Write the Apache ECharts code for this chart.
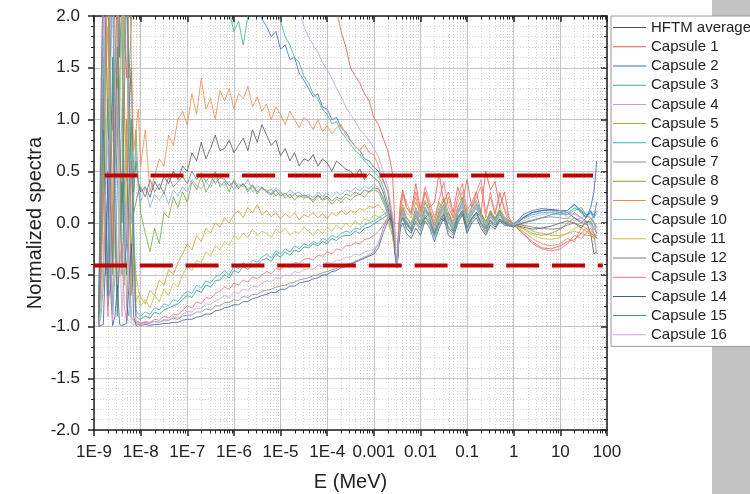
<!DOCTYPE html>
<html>
<head>
<meta charset="utf-8">
<script src="https://cdn.jsdelivr.net/npm/echarts@6/dist/echarts.min.js"></script>
<style>
  html, body { margin: 0; padding: 0; background: #fff; }
  #chart { width: 750px; height: 494px; }
</style>
</head>
<body>
<div id="chart"></div>
<script>
// energy grid, log10(E / MeV), split in segments
const logE = [
  [-8.9, -8.85, -8.8, -8.75, -8.7, -8.65, -8.6, -8.55, -8.5,
   -8.45, -8.4, -8.35, -8.3, -8.25, -8.2, -8.15, -8.1, -8.05],
  [-8.0, -7.9, -7.8, -7.7, -7.6, -7.5, -7.4, -7.3, -7.2,
   -7.1, -7.0, -6.9, -6.8, -6.7, -6.6, -6.5, -6.4, -6.3,
   -6.2, -6.1, -6.0, -5.9, -5.8, -5.7, -5.6, -5.5, -5.4,
   -5.3, -5.2, -5.1, -5.0, -4.9, -4.8, -4.7, -4.6, -4.5,
   -4.4, -4.3, -4.2, -4.1, -4.0, -3.9, -3.8, -3.7, -3.6,
   -3.5, -3.4, -3.3, -3.2, -3.1, -3.0, -2.9, -2.8, -2.7],
  [-2.65, -2.6, -2.56, -2.53, -2.5, -2.47, -2.43, -2.38, -2.3,
   -2.2, -2.1, -2.0, -1.9, -1.8, -1.7, -1.6, -1.5, -1.4,
   -1.3, -1.2, -1.1, -1.0, -0.9, -0.8, -0.7, -0.6, -0.5,
   -0.4, -0.3, -0.2, -0.1, 0.0],
  [0.2, 0.4, 0.6, 0.8, 1.0, 1.15, 1.3, 1.45, 1.55, 1.65, 1.72, 1.78]
];

const hftmAverage = [
  [-1.0, 0.4, 1.2, -0.5, -0.3, 1.6, 2.5, 0.2, 0.8, 2.3, 1.9, -0.4, -0.2, 1.1, 1.5, 0.3, 0.6, 0.4],
  [0.3, 0.35, 0.25, 0.4, 0.32, 0.45, 0.38, 0.5, 0.42,
   0.55, 0.5, 0.68, 0.6, 0.78, 0.62, 0.72, 0.85, 0.7,
   0.72, 0.8, 0.68, 0.75, 0.82, 0.7, 0.9, 0.78, 0.95,
   0.85, 0.75, 0.8, 0.65, 0.72, 0.6, 0.68, 0.55, 0.62,
   0.6, 0.66, 0.55, 0.62, 0.58, 0.5, 0.6, 0.56, 0.52,
   0.5, 0.45, 0.52, 0.42, 0.48, 0.44, 0.4, 0.3, 0.15],
  [0.05, -0.05, -0.2, -0.32, -0.38, -0.15, 0.05, 0.1, 0.0,
   -0.05, 0.08, -0.02, 0.05, 0.1, -0.04, 0.06, 0.02, 0.1,
   -0.02, 0.05, 0.12, 0.0, 0.04, 0.1, 0.06, -0.05, 0.08,
   0.03, 0.1, 0.0, 0.02, -0.02],
  [-0.04, -0.06, -0.05, -0.03, 0.0, 0.02, 0.0, -0.05, 0.02, -0.1, -0.3, -0.28]
];

const capsule1 = [
  [-1.0, 0.8, 2.0, 2.6, 2.7, 1.1, 0.9, 2.5, 2.9, 2.7, 2.6, 1.8, 1.4, 2.6, 2.8, 2.9, 2.7, 2.8],
  [2.8, 2.9, 2.7, 2.8, 2.9, 2.7, 2.8, 2.9, 2.8,
   2.9, 2.8, 2.7, 2.9, 2.8, 2.9, 2.7, 2.8, 2.9,
   2.8, 2.9, 2.8, 2.7, 2.9, 2.8, 2.9, 2.8, 2.7,
   2.9, 2.8, 2.9, 2.7, 2.8, 2.9, 2.8, 2.7, 2.9,
   2.8, 2.7, 2.6, 2.5, 2.35, 2.2, 2.05, 1.85, 1.7,
   1.5, 1.42, 1.35, 1.25, 1.18, 1.02, 0.95, 0.82, 0.7],
  [0.6, 0.48, 0.1, -0.3, -0.42, -0.05, 0.2, 0.32, 0.15,
   0.1, 0.38, 0.12, 0.3, 0.15, 0.2, 0.48, 0.2, 0.3,
   0.1, 0.35, 0.2, 0.42, 0.15, 0.3, 0.1, 0.5, 0.32,
   0.4, 0.15, 0.3, 0.05, -0.02],
  [-0.1, -0.18, -0.24, -0.25, -0.22, -0.18, -0.16, -0.1, -0.05, -0.1, -0.12, -0.15]
];

const capsule2 = [
  [-1.0, -0.2, 0.4, 2.3, 2.6, 0.9, 1.2, 2.7, 2.8, 1.6, 2.2, 2.8, 2.9, 2.1, 2.4, 2.9, 2.8, 2.7],
  [2.7, 2.9, 2.6, 2.8, 2.7, 2.9, 2.8, 2.6, 2.9,
   2.8, 2.7, 2.9, 2.6, 2.8, 2.7, 2.5, 2.8, 2.6,
   2.7, 2.5, 2.6, 2.4, 2.5, 2.3, 2.2, 2.1, 1.97,
   1.9, 1.8, 1.85, 1.68, 1.72, 1.58, 1.6, 1.45, 1.38,
   1.3, 1.22, 1.25, 1.12, 1.1, 1.0, 1.02, 0.92, 0.88,
   0.8, 0.74, 0.7, 0.62, 0.6, 0.54, 0.5, 0.42, 0.3],
  [0.15, 0.0, -0.2, -0.35, -0.42, -0.15, 0.05, 0.12, 0.0,
   -0.08, 0.12, 0.0, 0.15, 0.05, -0.1, 0.08, 0.18, 0.02,
   -0.08, 0.1, 0.2, 0.0, 0.12, 0.18, 0.08, -0.05, 0.1,
   0.02, 0.12, 0.04, 0.0, -0.02],
  [0.08, 0.12, 0.14, 0.13, 0.12, 0.12, 0.18, 0.1, 0.05, 0.12, 0.05, 0.2]
];

const capsule3 = [
  [-1.0, 0.5, 1.6, -0.4, 0.3, 2.5, 2.7, 0.6, 1.0, 2.6, 2.5, 2.9, 2.8, 1.4, 1.9, 2.7, 2.6, 2.8],
  [2.8, 2.6, 2.9, 2.7, 2.8, 2.6, 2.9, 2.7, 2.8,
   2.6, 2.8, 2.5, 2.7, 2.6, 2.4, 2.6, 2.5, 2.3,
   2.2, 2.05, 1.85, 1.95, 1.72, 2.0, 2.15, 2.3, 2.4,
   2.3, 2.2, 2.1, 1.95, 1.8, 1.72, 1.6, 1.55, 1.42,
   1.35, 1.25, 1.2, 1.1, 1.05, 0.96, 0.98, 0.88, 0.82,
   0.76, 0.7, 0.66, 0.6, 0.55, 0.5, 0.45, 0.35, 0.2],
  [0.1, -0.02, -0.2, -0.36, -0.43, -0.12, 0.08, 0.15, 0.05,
   -0.02, 0.15, 0.05, 0.2, 0.1, -0.05, 0.12, 0.22, 0.06,
   -0.04, 0.15, 0.25, 0.05, 0.15, 0.22, 0.1, 0.0, 0.12,
   0.04, 0.12, 0.05, 0.02, 0.0],
  [0.05, 0.1, 0.12, 0.12, 0.1, 0.08, 0.12, 0.15, 0.08, 0.05, 0.0, -0.1]
];

const capsule4 = [
  [-1.0, 1.3, 2.4, 0.2, -0.5, 2.2, 2.8, 0.9, 1.5, 2.8, 2.7, 1.7, 2.9, 2.6, 2.5, 2.9, 2.8, 2.9],
  [2.9, 2.8, 2.9, 2.7, 2.8, 2.9, 2.8, 2.7, 2.9,
   2.8, 2.9, 2.8, 2.7, 2.9, 2.8, 2.9, 2.7, 2.8,
   2.9, 2.8, 2.7, 2.9, 2.8, 2.9, 2.8, 2.7, 2.9,
   2.9, 2.8, 2.7, 2.6, 2.5, 2.35, 2.2, 2.05, 1.9,
   1.8, 1.72, 1.65, 1.55, 1.48, 1.4, 1.3, 1.22, 1.12,
   1.05, 0.98, 0.9, 0.85, 0.8, 0.72, 0.64, 0.5, 0.35],
  [0.2, 0.05, -0.15, -0.33, -0.41, -0.12, 0.06, 0.1, 0.02,
   -0.05, 0.1, 0.0, 0.12, 0.05, -0.06, 0.06, 0.15, 0.02,
   -0.05, 0.08, 0.15, 0.0, 0.08, 0.14, 0.04, -0.03, 0.06,
   0.0, 0.08, 0.03, 0.0, -0.02],
  [0.06, 0.1, 0.12, 0.12, 0.1, 0.06, 0.02, 0.05, 0.08, 0.05, 0.0, -0.05]
];

const capsule5 = [
  [-1.0, -0.6, 0.2, 1.4, 1.9, -0.3, -0.8, 1.2, 2.5, 0.6, -0.4, -0.6, 0.8, 1.1, -0.7, -0.2, -0.5, -0.65],
  [-0.72, -0.78, -0.65, -0.7, -0.55, -0.6, -0.45, -0.5, -0.38,
   -0.3, -0.2, -0.26, -0.12, -0.18, -0.05, -0.1, 0.0, -0.04,
   0.05, 0.0, 0.08, 0.12, 0.05, 0.15, 0.1, 0.18, 0.08,
   0.12, 0.06, 0.1, 0.04, 0.09, 0.05, 0.1, 0.03, 0.08,
   0.06, 0.1, 0.05, 0.09, 0.04, 0.1, 0.07, 0.12, 0.08,
   0.12, 0.1, 0.14, 0.12, 0.16, 0.15, 0.18, 0.12, 0.05],
  [-0.05, -0.12, -0.25, -0.36, -0.41, -0.15, 0.05, 0.18, 0.1,
   0.05, 0.2, 0.1, 0.22, 0.12, 0.02, 0.15, 0.25, 0.1,
   0.02, 0.15, 0.22, 0.08, 0.12, 0.18, 0.1, 0.0, 0.12,
   0.04, 0.15, 0.06, 0.02, 0.0],
  [-0.02, -0.08, -0.1, -0.12, -0.12, -0.1, -0.08, -0.1, -0.12, -0.12, -0.14, -0.12]
];

const capsule6 = [
  [-1.0, -0.9, -0.6, 0.4, 1.2, -0.2, -0.9, -0.5, 0.3, 1.4, 2.1, 0.2, -0.8, -0.9, -0.4, 0.1, -0.85, -0.88],
  [-0.9, -0.86, -0.88, -0.82, -0.84, -0.78, -0.8, -0.74, -0.76,
   -0.7, -0.66, -0.68, -0.6, -0.63, -0.56, -0.58, -0.52, -0.5,
   -0.46, -0.5, -0.42, -0.44, -0.38, -0.42, -0.36, -0.38, -0.33,
   -0.3, -0.34, -0.27, -0.3, -0.25, -0.28, -0.22, -0.25, -0.2,
   -0.22, -0.18, -0.2, -0.15, -0.17, -0.12, -0.14, -0.1, -0.08,
   -0.09, -0.05, -0.06, -0.02, 0.0, 0.02, 0.05, 0.08, 0.1],
  [0.12, 0.05, -0.15, -0.32, -0.4, -0.2, 0.02, 0.1, 0.0,
   -0.05, 0.08, 0.02, 0.12, 0.04, -0.08, 0.06, 0.14, 0.0,
   -0.06, 0.1, 0.16, 0.0, 0.08, 0.15, 0.05, -0.04, 0.06,
   0.0, 0.08, 0.02, 0.0, -0.01],
  [0.04, 0.08, 0.1, 0.1, 0.08, 0.1, 0.14, 0.12, 0.08, 0.1, 0.05, 0.1]
];

const capsule7 = [
  [-1.0, 0.2, 1.4, 0.1, -0.8, -0.6, 0.2, 1.5, 2.3, 0.7, -0.5, 0.3, 1.0, -0.3, -0.9, -0.95, -0.97, -0.96],
  [-0.97, -0.96, -0.97, -0.95, -0.96, -0.94, -0.94, -0.92, -0.93,
   -0.9, -0.89, -0.89, -0.86, -0.86, -0.83, -0.84, -0.8, -0.8,
   -0.77, -0.77, -0.74, -0.75, -0.71, -0.72, -0.69, -0.69, -0.66,
   -0.65, -0.64, -0.62, -0.61, -0.6, -0.58, -0.57, -0.55, -0.54,
   -0.53, -0.51, -0.5, -0.48, -0.47, -0.45, -0.44, -0.41, -0.4,
   -0.39, -0.37, -0.35, -0.33, -0.31, -0.28, -0.2, -0.05, 0.05],
  [0.08, 0.02, -0.16, -0.33, -0.41, -0.2, -0.02, 0.05, -0.05,
   -0.1, 0.0, -0.08, 0.05, -0.02, -0.14, -0.02, 0.08, -0.08,
   -0.12, 0.02, 0.1, -0.08, 0.02, 0.08, -0.02, -0.1, 0.0,
   -0.04, 0.03, -0.01, -0.02, -0.03],
  [0.0, 0.03, 0.05, 0.06, 0.05, 0.04, 0.1, 0.05, 0.02, 0.0, -0.1, -0.3]
];

const capsule8 = [
  [-1.0, -0.4, 0.5, 1.6, 2.3, 0.6, -0.5, 0.4, 1.4, 0.8, 0.2, 1.9, 2.6, 0.7, -0.3, 0.2, 0.9, 0.4],
  [0.1, -0.1, -0.28, -0.05, -0.2, 0.1, 0.05, 0.25, 0.15,
   0.3, 0.2, 0.4, 0.32, 0.45, 0.3, 0.38, 0.5, 0.35,
   0.4, 0.3, 0.42, 0.35, 0.38, 0.3, 0.36, 0.28, 0.35,
   0.3, 0.33, 0.26, 0.3, 0.24, 0.28, 0.22, 0.27, 0.24,
   0.25, 0.2, 0.26, 0.22, 0.24, 0.18, 0.23, 0.2, 0.25,
   0.22, 0.26, 0.28, 0.25, 0.3, 0.32, 0.3, 0.2, 0.1],
  [0.05, -0.05, -0.2, -0.35, -0.42, -0.1, 0.1, 0.15, 0.05,
   0.0, 0.12, 0.05, 0.15, 0.08, -0.02, 0.1, 0.18, 0.05,
   0.0, 0.12, 0.2, 0.05, 0.1, 0.15, 0.08, 0.02, 0.1,
   0.05, 0.12, 0.02, 0.0, -0.02],
  [-0.05, -0.1, -0.12, -0.1, -0.06, 0.0, 0.05, 0.02, -0.02, 0.05, 0.0, -0.05]
];

const capsule9 = [
  [-1.0, -0.3, 0.6, 1.7, 2.4, 0.8, -0.2, 0.9, 1.8, 2.6, 2.5, 1.2, 0.4, 2.7, 1.6, 0.7, 0.9, 1.1],
  [0.55, 0.9, 0.3, 0.45, 0.62, 0.55, 0.85, 0.75, 1.0,
   1.08, 0.95, 1.25, 1.05, 1.4, 1.1, 1.2, 1.0, 1.28,
   1.18, 1.3, 1.1, 1.25, 1.2, 1.32, 1.12, 1.22, 1.08,
   1.15, 1.0, 1.12, 1.05, 0.95, 1.08, 1.0, 0.92, 1.02,
   0.98, 0.9, 1.0, 0.88, 0.94, 0.86, 0.92, 0.95, 0.85,
   0.8, 0.74, 0.7, 0.76, 0.68, 0.66, 0.55, 0.4, 0.3],
  [0.2, 0.05, -0.15, -0.3, -0.4, -0.1, 0.15, 0.3, 0.2,
   0.1, 0.25, 0.05, 0.3, 0.15, 0.0, 0.2, 0.1, 0.25,
   0.05, 0.2, 0.3, 0.1, 0.15, 0.25, 0.35, 0.05, 0.3,
   0.1, 0.28, 0.15, 0.05, -0.02],
  [-0.08, -0.15, -0.2, -0.22, -0.2, -0.15, -0.18, -0.05, -0.08, -0.12, -0.15, -0.1]
];

const capsule10 = [
  [-1.0, 0.6, 1.8, 0.9, 0.1, 1.3, 2.4, 0.7, -0.6, 0.2, 1.1, 2.0, 2.2, 0.8, 0.0, 0.4, 0.7, 0.3],
  [0.2, 0.35, 0.15, 0.28, 0.22, 0.3, 0.18, 0.32, 0.26,
   0.35, 0.3, 0.42, 0.36, 0.33, 0.4, 0.34, 0.44, 0.38,
   0.36, 0.4, 0.32, 0.38, 0.35, 0.42, 0.3, 0.36, 0.33,
   0.32, 0.28, 0.34, 0.3, 0.26, 0.32, 0.28, 0.3, 0.25,
   0.28, 0.24, 0.3, 0.26, 0.29, 0.25, 0.3, 0.27, 0.32,
   0.3, 0.34, 0.31, 0.36, 0.33, 0.38, 0.34, 0.22, 0.08],
  [0.0, -0.08, -0.22, -0.35, -0.4, -0.12, 0.05, 0.12, 0.02,
   -0.05, 0.1, 0.0, 0.12, 0.06, -0.08, 0.05, 0.15, 0.02,
   -0.05, 0.1, 0.18, 0.0, 0.12, 0.2, 0.05, -0.02, 0.08,
   0.0, 0.1, 0.04, 0.02, -0.02],
  [0.05, 0.1, 0.12, 0.12, 0.1, 0.08, 0.15, 0.1, 0.05, 0.12, 0.0, -0.05]
];

const capsule11 = [
  [-1.0, -0.8, -0.3, 0.6, 1.5, 1.0, 0.4, -0.3, -0.8, 0.9, 2.2, 1.1, 0.1, -0.4, -0.6, -0.2, -0.75, -0.7],
  [-0.8, -0.74, -0.82, -0.7, -0.76, -0.64, -0.7, -0.58, -0.62,
   -0.5, -0.42, -0.46, -0.36, -0.38, -0.28, -0.32, -0.22, -0.26,
   -0.18, -0.22, -0.12, -0.16, -0.1, -0.14, -0.06, -0.12, -0.08,
   -0.1, -0.14, -0.06, -0.1, -0.05, -0.12, -0.08, -0.1, -0.04,
   -0.08, -0.12, -0.06, -0.1, -0.04, -0.08, -0.02, -0.06, 0.0,
   -0.04, 0.02, -0.02, 0.04, 0.02, 0.08, 0.06, 0.04, 0.0],
  [-0.05, -0.12, -0.25, -0.36, -0.4, -0.18, 0.0, 0.08, 0.02,
   -0.04, 0.08, 0.0, 0.1, 0.05, -0.06, 0.04, 0.12, 0.0,
   -0.06, 0.05, 0.12, -0.02, 0.05, 0.1, 0.02, -0.05, 0.04,
   -0.02, 0.06, 0.0, -0.02, -0.03],
  [-0.06, -0.12, -0.15, -0.16, -0.14, -0.1, -0.05, -0.02, -0.05, -0.08, -0.1, -0.12]
];

const capsule12 = [
  [-1.0, 1.1, 2.6, 1.8, 0.9, 0.2, -0.4, 0.7, 1.7, 0.9, 0.0, 1.2, 2.4, 1.4, 0.5, 0.1, 0.2, 0.3],
  [0.35, 0.25, 0.42, 0.3, 0.38, 0.28, 0.45, 0.35, 0.4,
   0.45, 0.38, 0.5, 0.42, 0.48, 0.4, 0.46, 0.38, 0.44,
   0.42, 0.36, 0.4, 0.33, 0.38, 0.32, 0.37, 0.3, 0.34,
   0.3, 0.27, 0.32, 0.26, 0.29, 0.24, 0.28, 0.25, 0.27,
   0.25, 0.22, 0.27, 0.23, 0.26, 0.21, 0.25, 0.23, 0.28,
   0.26, 0.3, 0.27, 0.32, 0.3, 0.34, 0.33, 0.25, 0.12],
  [0.02, -0.06, -0.2, -0.34, -0.4, -0.15, 0.02, 0.06, -0.02,
   -0.06, 0.05, -0.02, 0.08, 0.02, -0.1, 0.02, 0.1, -0.04,
   -0.08, 0.06, 0.12, -0.04, 0.05, 0.1, 0.0, -0.06, 0.03,
   -0.02, 0.04, 0.0, -0.01, -0.02],
  [-0.02, -0.04, -0.05, -0.06, -0.05, -0.02, 0.0, -0.03, 0.0, 0.02, -0.05, -0.1]
];

const capsule13 = [
  [-1.0, -0.5, 0.3, -0.4, -0.9, 0.2, 1.1, 0.1, -0.7, -0.4, -0.2, -0.8, -0.95, -0.1, 0.6, -0.5, -0.96, -0.95],
  [-0.97, -0.95, -0.96, -0.93, -0.94, -0.9, -0.92, -0.88, -0.89,
   -0.84, -0.8, -0.82, -0.76, -0.78, -0.72, -0.73, -0.68, -0.66,
   -0.62, -0.64, -0.58, -0.6, -0.55, -0.57, -0.52, -0.54, -0.5,
   -0.47, -0.49, -0.44, -0.45, -0.41, -0.43, -0.38, -0.39, -0.35,
   -0.34, -0.36, -0.31, -0.32, -0.28, -0.3, -0.25, -0.26, -0.22,
   -0.22, -0.19, -0.2, -0.16, -0.15, -0.12, -0.08, -0.02, 0.05],
  [0.1, 0.05, -0.15, -0.33, -0.42, -0.15, 0.1, 0.28, 0.15,
   0.08, 0.3, 0.12, 0.35, 0.2, 0.05, 0.22, 0.4, 0.15,
   0.05, 0.25, 0.38, 0.12, 0.2, 0.3, 0.42, 0.1, 0.25,
   0.08, 0.3, 0.12, 0.02, -0.02],
  [-0.1, -0.2, -0.25, -0.27, -0.25, -0.2, -0.12, -0.15, -0.1, -0.05, -0.1, -0.15]
];

const capsule14 = [
  [-1.0, -0.99, -0.98, -0.3, 0.5, -0.6, -0.99, -0.9, -0.6, -0.98, -0.99, -0.98, -0.97, -0.6, -0.2, -0.9, -0.99, -0.98],
  [-0.99, -0.98, -0.99, -0.98, -0.98, -0.97, -0.97, -0.96, -0.96,
   -0.94, -0.93, -0.93, -0.91, -0.9, -0.88, -0.88, -0.85, -0.84,
   -0.82, -0.81, -0.79, -0.79, -0.76, -0.76, -0.73, -0.72, -0.7,
   -0.69, -0.67, -0.67, -0.64, -0.64, -0.61, -0.61, -0.58, -0.57,
   -0.56, -0.54, -0.53, -0.5, -0.5, -0.47, -0.46, -0.43, -0.42,
   -0.4, -0.38, -0.36, -0.34, -0.32, -0.3, -0.24, -0.1, 0.02],
  [0.05, 0.0, -0.18, -0.35, -0.43, -0.22, -0.05, 0.0, -0.1,
   -0.15, -0.05, -0.12, 0.02, -0.05, -0.18, -0.05, 0.05, -0.12,
   -0.15, 0.0, 0.08, -0.1, 0.0, 0.05, -0.05, -0.12, -0.02,
   -0.06, 0.02, -0.02, -0.03, -0.04],
  [0.05, 0.1, 0.12, 0.13, 0.12, 0.1, 0.05, 0.0, 0.05, 0.15, 0.3, 0.6]
];

const capsule15 = [
  [-1.0, 0.0, 0.9, 0.2, -0.7, 0.4, 1.6, 0.1, -0.9, -0.3, 0.4, -0.2, -0.5, 0.3, 1.0, -0.2, -0.9, -0.92],
  [-0.93, -0.9, -0.92, -0.86, -0.88, -0.84, -0.82, -0.8, -0.78,
   -0.74, -0.7, -0.72, -0.65, -0.67, -0.6, -0.62, -0.56, -0.55,
   -0.5, -0.53, -0.46, -0.48, -0.42, -0.45, -0.4, -0.41, -0.36,
   -0.34, -0.37, -0.3, -0.33, -0.28, -0.31, -0.26, -0.28, -0.23,
   -0.24, -0.2, -0.22, -0.18, -0.2, -0.15, -0.17, -0.13, -0.12,
   -0.12, -0.08, -0.1, -0.05, -0.04, -0.01, 0.02, 0.05, 0.08],
  [0.08, 0.02, -0.18, -0.34, -0.42, -0.2, 0.0, 0.05, -0.05,
   -0.1, 0.02, -0.05, 0.06, 0.0, -0.12, 0.0, 0.08, -0.05,
   -0.1, 0.04, 0.1, -0.05, 0.04, 0.1, 0.0, -0.08, 0.02,
   -0.04, 0.04, 0.0, -0.02, -0.03],
  [0.0, 0.02, 0.05, 0.08, 0.1, 0.12, 0.18, 0.12, 0.05, 0.1, 0.08, 0.12]
];

const capsule16 = [
  [-1.0, -0.8, -0.4, 0.3, 0.8, -0.3, -0.95, 0.1, 1.3, -0.2, -0.9, -0.3, 0.2, -0.6, -0.97, -0.98, -0.98, -0.97],
  [-0.98, -0.97, -0.97, -0.95, -0.96, -0.93, -0.94, -0.91, -0.92,
   -0.88, -0.85, -0.86, -0.82, -0.83, -0.78, -0.79, -0.75, -0.73,
   -0.7, -0.72, -0.67, -0.68, -0.64, -0.65, -0.61, -0.62, -0.58,
   -0.56, -0.57, -0.53, -0.54, -0.5, -0.51, -0.47, -0.48, -0.45,
   -0.44, -0.45, -0.41, -0.42, -0.38, -0.39, -0.36, -0.36, -0.33,
   -0.33, -0.3, -0.31, -0.28, -0.27, -0.25, -0.2, -0.1, 0.05],
  [0.15, 0.1, -0.1, -0.3, -0.4, -0.18, 0.02, 0.12, 0.05,
   0.0, 0.12, 0.05, 0.15, 0.08, -0.04, 0.08, 0.18, 0.04,
   -0.02, 0.12, 0.2, 0.02, 0.1, 0.16, 0.06, -0.02, 0.08,
   0.02, 0.1, 0.05, 0.0, -0.02],
  [0.02, 0.06, 0.08, 0.1, 0.12, 0.1, 0.08, 0.05, 0.0, -0.02, -0.05, -0.08]
];

const seriesNames = ['HFTM average', 'Capsule 1', 'Capsule 2', 'Capsule 3', 'Capsule 4',
  'Capsule 5', 'Capsule 6', 'Capsule 7', 'Capsule 8', 'Capsule 9', 'Capsule 10',
  'Capsule 11', 'Capsule 12', 'Capsule 13', 'Capsule 14', 'Capsule 15', 'Capsule 16'];
const seriesValues = [hftmAverage, capsule1, capsule2, capsule3, capsule4, capsule5,
  capsule6, capsule7, capsule8, capsule9, capsule10, capsule11, capsule12, capsule13,
  capsule14, capsule15, capsule16];
const seriesColors = ['#555555', '#e4574e', '#3f6fb5', '#3fae8e', '#c39be6', '#c9a227',
  '#35b5c2', '#8c8c8c', '#74aa3a', '#f08850', '#7fb2dd', '#c8bd45', '#7a7a7a',
  '#ee7080', '#3f5a9c', '#2f9488', '#cfa0e6'];

// red dashed reference levels (y) and their extent in log10(E)
const upperLevel = 0.46;
const lowerLevel = -0.41;
const upperSpan = [-8.77, 1.70];
const lowerSpan = [-9, 1.91];

// axis structure: decades shown and minor tick multipliers
const decadeMin = -9;
const decadeMax = 2;
const minorMultipliers = [2, 3, 4, 5, 6, 7, 8, 9];
const yTicks = ['-2.0', '-1.5', '-1.0', '-0.5', '0.0', '0.5', '1.0', '1.5', '2.0'];

function toPoints(segs) {
  const pts = [];
  segs.forEach(function (ys, s) {
    ys.forEach(function (v, i) {
      if (logE[s][i] !== undefined) pts.push([logE[s][i], v]);
    });
  });
  return pts;
}

function decadeLabel(e) {
  e = Math.round(e);
  if (e <= -4) return '1E' + e;
  if (e < 0) return Math.pow(10, e).toFixed(-e);
  return String(Math.pow(10, e));
}

var minorPositions = [];
for (var d = decadeMin; d < decadeMax; d++) {
  minorMultipliers.forEach(function (m) { minorPositions.push([d + Math.log10(m), 0]); });
}

var chartDom = document.getElementById('chart');
var myChart = echarts.init(chartDom, null, { renderer: 'canvas' });

var font = 'Liberation Sans, Arial, sans-serif';

var series = [{
  // log-spaced minor grid lines and ticks on the energy axis
  type: 'custom',
  silent: true,
  z: 1,
  data: minorPositions,
  renderItem: function (params, api) {
    var x = api.value(0);
    var top = api.coord([x, 2]);
    var bot = api.coord([x, -2]);
    var px = Math.round(top[0]) + 0.5;
    return {
      type: 'group',
      children: [
        { type: 'line', shape: { x1: px, y1: top[1], x2: px, y2: bot[1] },
          style: { stroke: '#d4d4d4', lineWidth: 1, lineDash: [1, 2] } },
        { type: 'line', shape: { x1: px, y1: bot[1], x2: px, y2: bot[1] + 3.5 },
          style: { stroke: '#222', lineWidth: 1 } },
        { type: 'line', shape: { x1: px, y1: top[1], x2: px, y2: top[1] + 3.5 },
          style: { stroke: '#222', lineWidth: 1 } }
      ]
    };
  }
}];

seriesValues.forEach(function (vals, k) {
  series.push({
    name: seriesNames[k],
    type: 'line',
    data: toPoints(vals),
    showSymbol: false,
    symbol: 'none',
    color: seriesColors[k],
    lineStyle: { width: 0.9, opacity: 0.9 },
    emphasis: { disabled: true },
    z: 2
  });
});

series.push({
  type: 'line',
  data: [[upperSpan[0], upperLevel], [upperSpan[1], upperLevel]],
  symbol: 'none',
  lineStyle: { color: '#c00000', width: 4, type: [33, 12.8] },
  z: 5
});
series.push({
  type: 'line',
  data: [[lowerSpan[0], lowerLevel], [lowerSpan[1], lowerLevel]],
  symbol: 'none',
  lineStyle: { color: '#c00000', width: 4, type: [33, 12.8] },
  z: 5
});

var option = {
  animation: false,
  backgroundColor: '#ffffff',
  textStyle: { fontFamily: font },
  graphic: [{
    type: 'rect',
    shape: { x: 712, y: 0, width: 38, height: 494 },
    style: { fill: '#c3c3c3' },
    z: -10
  }],
  legend: {
    data: seriesNames,
    orient: 'vertical',
    left: 611,
    top: 16,
    padding: [2, 10, 2, 2],
    itemGap: 0,
    itemWidth: 33,
    itemHeight: 1,
    icon: 'rect',
    backgroundColor: '#ffffff',
    borderColor: '#9a9a9a',
    borderWidth: 1,
    z: 20,
    textStyle: { fontFamily: font, fontSize: 15, color: '#222', lineHeight: 19.2 }
  },
  grid: { left: 94, right: 143, top: 16, bottom: 64, outerBoundsMode: 'none', containLabel: false },
  xAxis: [{
    type: 'value',
    min: decadeMin,
    max: decadeMax,
    interval: 1,
    name: 'E (MeV)',
    nameLocation: 'middle',
    nameGap: 42,
    nameMoveOverlap: false,
    nameTextStyle: { fontSize: 20, color: '#222', fontFamily: font },
    axisLine: { onZero: false, lineStyle: { color: '#222', width: 1.5 } },
    axisTick: { length: 6, lineStyle: { color: '#222', width: 1.5 } },
    axisLabel: { formatter: decadeLabel, fontSize: 17, color: '#222', margin: 14, fontFamily: font },
    splitLine: { show: true, lineStyle: { color: '#c4c4c4', width: 1 } }
  }, {
    type: 'value',
    min: decadeMin,
    max: decadeMax,
    interval: 1,
    position: 'top',
    axisLine: { onZero: false, lineStyle: { color: '#222', width: 1.5 } },
    axisTick: { inside: true, length: 6, lineStyle: { color: '#222', width: 1.5 } },
    axisLabel: { show: false },
    splitLine: { show: false }
  }],
  yAxis: [{
    type: 'value',
    min: -2,
    max: 2,
    interval: 0.5,
    name: 'Normalized spectra',
    nameLocation: 'middle',
    nameGap: 49,
    nameMoveOverlap: false,
    nameTextStyle: { fontSize: 20, color: '#222', fontFamily: font },
    axisLine: { show: true, onZero: false, lineStyle: { color: '#222', width: 1.5 } },
    axisTick: { show: true, length: 6, lineStyle: { color: '#222', width: 1.5 } },
    minorTick: { show: true, splitNumber: 5, length: 3, lineStyle: { color: '#222' } },
    axisLabel: {
      fontSize: 17, color: '#222', margin: 14, fontFamily: font,
      formatter: function (v) { return yTicks[Math.round((v + 2) / 0.5)]; }
    },
    splitLine: { show: true, lineStyle: { color: '#c4c4c4', width: 1 } },
    minorSplitLine: { show: true, lineStyle: { color: '#d8d8d8', type: [1, 2] } }
  }, {
    type: 'value',
    min: -2,
    max: 2,
    interval: 0.5,
    position: 'right',
    axisLine: { show: true, onZero: false, lineStyle: { color: '#222', width: 1.5 } },
    axisTick: { show: true, inside: true, length: 6, lineStyle: { color: '#222', width: 1.5 } },
    minorTick: { show: true, splitNumber: 5, length: 3, lineStyle: { color: '#222' } },
    axisLabel: { show: false },
    splitLine: { show: false }
  }],
  series: series
};

option && myChart.setOption(option);
</script>
</body>
</html>
